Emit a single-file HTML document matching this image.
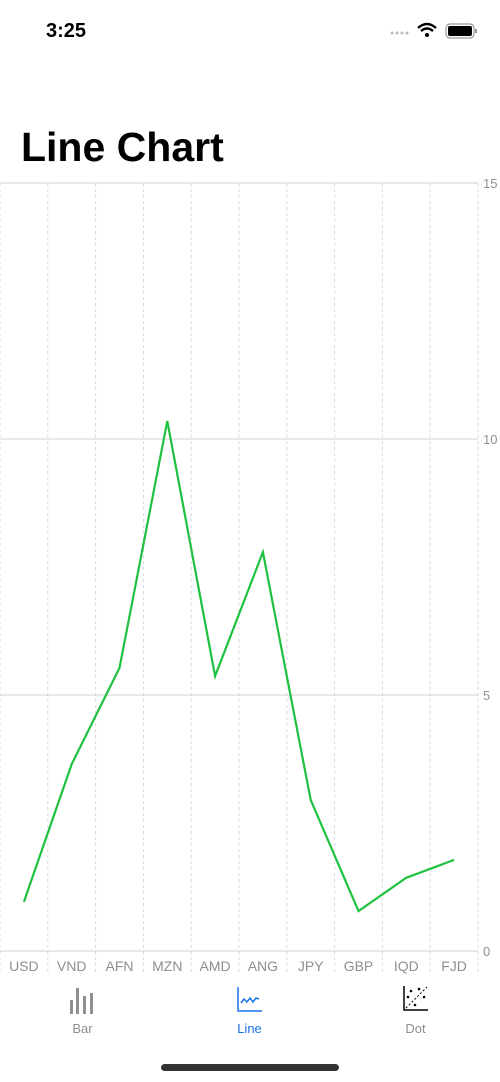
<!DOCTYPE html>
<html><head><meta charset="utf-8"><style>
body{margin:0;width:500px;height:1082px;background:#fff;font-family:"Liberation Sans",sans-serif;overflow:hidden;position:relative}
.abs{position:absolute}
</style></head><body>
<div class="abs" style="left:46px;top:20px;font-size:20px;font-weight:600;color:#000">3:25</div>
<svg class="abs" style="left:380px;top:18px" width="120" height="30">
<g fill="#bbb"><circle cx="12" cy="15" r="1.5"/><circle cx="17" cy="15" r="1.5"/><circle cx="22" cy="15" r="1.5"/><circle cx="27" cy="15" r="1.5"/></g>
<path d="M38 10 Q47 2 56 10" stroke="#000" stroke-width="2.5" fill="none"/><path d="M41 13 Q47 8 53 13" stroke="#000" stroke-width="2.5" fill="none"/><circle cx="47" cy="17" r="2" fill="#000"/>
<rect x="66" y="6" width="28" height="14" rx="4" fill="none" stroke="#999" stroke-width="1.2"/><rect x="68" y="8" width="24" height="10" rx="2" fill="#000"/><rect x="95" y="11" width="2" height="4" fill="#999"/>
</svg>
<div class="abs" style="left:21px;top:124px;font-size:41px;font-weight:bold;color:#000">Line Chart</div>
<svg class="abs" id="chart" style="left:0;top:0" width="500" height="990"></svg>
<div class="abs" style="left:0;top:980px;width:500px;height:60px">
<svg class="abs" style="left:70px;top:6px" width="28" height="28"><g fill="#8e8e93"><rect x="0" y="14" width="3" height="14"/><rect x="6" y="2" width="3" height="26"/><rect x="13" y="10" width="3" height="18"/><rect x="20" y="7" width="3" height="21"/></g></svg>
<div class="abs" style="left:60px;top:41px;width:45px;text-align:center;font-size:13px;color:#8e8e93">Bar</div>
<svg class="abs" style="left:237px;top:7px" width="26" height="26"><path d="M1 0V24H25" stroke="#1a73e8" stroke-width="1.5" fill="none"/><path d="M4 16L7 12L10 15L13 11L16 15L19 11L22 12" stroke="#1a73e8" stroke-width="1.5" fill="none"/></svg>
<div class="abs" style="left:227px;top:41px;width:45px;text-align:center;font-size:13px;color:#1a73e8">Line</div>
<svg class="abs" style="left:403px;top:6px" width="26" height="26"><path d="M1 0V24H25" stroke="#000" stroke-width="1.5" fill="none"/><path d="M3 22L24 1" stroke="#000" stroke-width="1" stroke-dasharray="2 2"/><g fill="#000"><circle cx="8" cy="5" r="1.3"/><circle cx="5" cy="11" r="1.3"/><circle cx="16" cy="3" r="1.3"/><circle cx="21" cy="11" r="1.3"/><circle cx="12" cy="19" r="1.3"/></g></svg>
<div class="abs" style="left:393px;top:41px;width:45px;text-align:center;font-size:13px;color:#8e8e93">Dot</div>
</div>
<div class="abs" style="left:161px;top:1064px;width:178px;height:7px;border-radius:4px;background:#333"></div>
<script>
const categories=["USD","VND","AFN","MZN","AMD","ANG","JPY","GBP","IQD","FJD"];
const values=[0.96,3.65,5.53,10.35,5.37,7.79,2.95,0.78,1.43,1.78];
const yTicks=[0,5,10,15];
const svg=document.getElementById('chart');
const NS='http://www.w3.org/2000/svg';
const L=0,R=478,T=183,B=951,yMax=15;
const band=(R-L)/categories.length;
const x=i=>L+band*(i+0.5);
const y=v=>B-(v/yMax)*(B-T);
function mk(t,a){const e=document.createElementNS(NS,t);for(const k in a)e.setAttribute(k,a[k]);svg.appendChild(e);return e;}
for(let i=0;i<=categories.length;i++){
const g=mk('line',{x1:L+band*i,x2:L+band*i,y1:T,y2:975,stroke:'#d8d8d8','stroke-dasharray':'3 3','stroke-width':1});


}
yTicks.forEach(t=>{
const g=mk('line',{x1:L,x2:R,y1:y(t),y2:y(t),stroke:'#d0d0d0','stroke-width':1});


const lb=mk('text',{x:483,y:y(t)+5,'font-size':13,fill:'#8e8e93','font-family':'Liberation Sans, sans-serif'});
lb.textContent=t;


});
categories.forEach((c,i)=>{
const lb=mk('text',{x:x(i),y:971,'font-size':14,fill:'#8e8e93','text-anchor':'middle','font-family':'Liberation Sans, sans-serif'});
lb.textContent=c;


});
const p=mk('polyline',{points:values.map((v,i)=>x(i)+','+y(v)).join(' '),fill:'none',stroke:'#1fc140','stroke-width':2.2,'stroke-linejoin':'miter'});


</script>
</body></html>
